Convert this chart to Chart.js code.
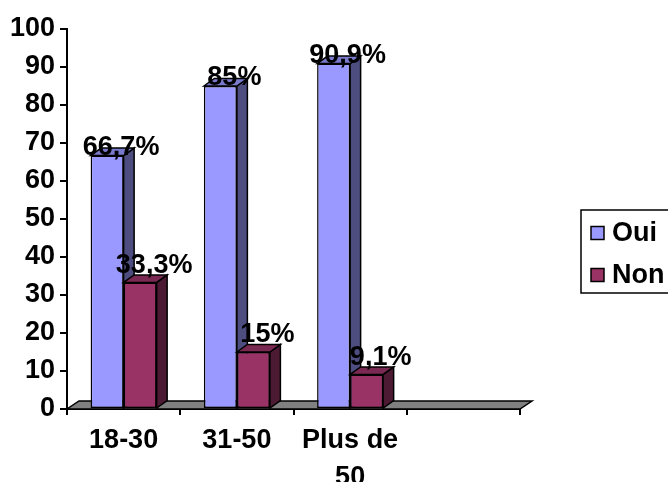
<!DOCTYPE html>
<html>
<head>
<meta charset="utf-8">
<script src="https://cdn.jsdelivr.net/npm/chart.js@4"></script>
<style>
  html, body { margin: 0; padding: 0; background: #fff; overflow: hidden; }
  #wrap { width: 668px; height: 482px; position: relative; }
</style>
</head>
<body>
<div id="wrap"><canvas id="c" width="668" height="482"></canvas></div>
<script>
// Age groups (the last slot is an empty category on the axis)
const categories = ['18-30', '31-50', ['Plus de', '50'], ''];
const seriesNames = ['Oui', 'Non'];
const ouiValues = [66.7, 85, 90.9, null];
const nonValues = [33.3, 15, 9.1, null];
const yTickStep = 10;
const yMax = 100;

const FONT = '"Liberation Sans", Arial, sans-serif';
const FONT_SIZE = 27;

// Face colours for the 3-D columns: front, side, top
const palette = [
  { front: '#9999FF', side: '#4D4D80', top: '#7A7ACC' },
  { front: '#993366', side: '#4D1A33', top: '#7A2952' }
];

const BAR_DEPTH = { dx: 10.5, dy: 7.5 };
const FLOOR_DEPTH = { dx: 12, dy: 8 };
const LABEL_SHIFT_X = 14;
const LABEL_LIFT = [8, 17];

function fmtPct(v) {
  return String(v).replace('.', ',') + '%';
}

function poly(ctx, pts, fill) {
  ctx.beginPath();
  ctx.moveTo(pts[0][0], pts[0][1]);
  for (let i = 1; i < pts.length; i++) ctx.lineTo(pts[i][0], pts[i][1]);
  ctx.closePath();
  ctx.fillStyle = fill;
  ctx.fill();
  ctx.lineWidth = 1.5;
  ctx.strokeStyle = '#000';
  ctx.lineJoin = 'miter';
  ctx.stroke();
}

const columns3d = {
  id: 'columns3d',
  beforeDatasetsDraw(chart) {
    const { ctx, chartArea: { left, right, bottom } } = chart;
    ctx.save();
    poly(ctx, [
      [left, bottom], [right, bottom],
      [right + FLOOR_DEPTH.dx, bottom - FLOOR_DEPTH.dy],
      [left + FLOOR_DEPTH.dx, bottom - FLOOR_DEPTH.dy]
    ], '#808080');
    ctx.restore();
  },
  afterDatasetsDraw(chart) {
    const ctx = chart.ctx;
    const datasets = chart.data.datasets;
    const n = chart.data.labels.length;
    const { dx, dy } = BAR_DEPTH;
    ctx.save();
    for (let j = 0; j < n; j++) {
      datasets.forEach((ds, di) => {
        const v = ds.data[j];
        if (v == null) return;
        const el = chart.getDatasetMeta(di).data[j];
        if (di > 0) el.draw(ctx);
        const { x, y, base, width } = el.getProps(['x', 'y', 'base', 'width'], true);
        const l = x - width / 2, r = x + width / 2;
        poly(ctx, [[r, y], [r + dx, y - dy], [r + dx, base - dy], [r, base]], palette[di].side);
        poly(ctx, [[l, y], [l + dx, y - dy], [r + dx, y - dy], [r, y]], palette[di].top);
      });
    }
    // value labels
    ctx.font = `bold ${FONT_SIZE}px ${FONT}`;
    ctx.fillStyle = '#000';
    ctx.textAlign = 'center';
    ctx.textBaseline = 'middle';
    datasets.forEach((ds, di) => {
      const meta = chart.getDatasetMeta(di);
      ds.data.forEach((v, j) => {
        if (v == null) return;
        const el = meta.data[j];
        ctx.fillText(fmtPct(v), el.x + LABEL_SHIFT_X, el.y - LABEL_LIFT[di]);
      });
    });
    ctx.restore();
  },
  afterDraw(chart) {
    // legend box at the right
    const ctx = chart.ctx;
    const bx = 581, by = 210, bh = 83;
    ctx.save();
    ctx.lineWidth = 1.5;
    ctx.strokeStyle = '#000';
    ctx.strokeRect(bx, by, 120, bh);
    ctx.font = `bold ${FONT_SIZE}px ${FONT}`;
    ctx.textAlign = 'left';
    ctx.textBaseline = 'middle';
    chart.data.datasets.forEach((ds, i) => {
      const cy = 233 + i * 42;
      ctx.fillStyle = ds.backgroundColor;
      ctx.fillRect(591, cy - 6.5, 13, 13);
      ctx.strokeRect(591, cy - 6.5, 13, 13);
      ctx.fillStyle = '#000';
      ctx.fillText(ds.label, 612, cy + 1);
    });
    ctx.restore();
  }
};

const tickFont = { family: FONT, size: FONT_SIZE, weight: 'bold', lineHeight: 1.36 };

new Chart(document.getElementById('c'), {
  type: 'bar',
  data: {
    labels: categories,
    datasets: [
      { label: seriesNames[0], data: ouiValues, backgroundColor: palette[0].front },
      { label: seriesNames[1], data: nonValues, backgroundColor: palette[1].front }
    ]
  },
  options: {
    responsive: false,
    devicePixelRatio: 1,
    animation: false,
    events: [],
    layout: { padding: { top: 29, right: 148, left: 0, bottom: 0 } },
    datasets: {
      bar: {
        borderColor: '#000',
        borderWidth: 1.5,
        borderSkipped: false,
        categoryPercentage: 0.583,
        barPercentage: 1.0
      }
    },
    plugins: {
      legend: { display: false },
      tooltip: { enabled: false },
      title: { display: false }
    },
    scales: {
      x: {
        offset: true,
        grid: { offset: true, drawOnChartArea: false, drawTicks: true, tickLength: 6, color: '#000', lineWidth: 2 },
        border: { display: true, color: '#000', width: 2 },
        ticks: { color: '#000', font: tickFont, padding: 7, maxRotation: 0, autoSkip: false },
        afterFit(scale) { scale.height = 73; }
      },
      y: {
        min: 0,
        max: yMax,
        grid: { drawOnChartArea: false, drawTicks: true, tickLength: 7, color: '#000', lineWidth: 2 },
        border: { display: true, color: '#000', width: 2 },
        ticks: { stepSize: yTickStep, color: '#000', font: tickFont, padding: 5, autoSkip: false },
        afterFit(scale) { scale.width = 67; }
      }
    }
  },
  plugins: [columns3d]
});
</script>
</body>
</html>
